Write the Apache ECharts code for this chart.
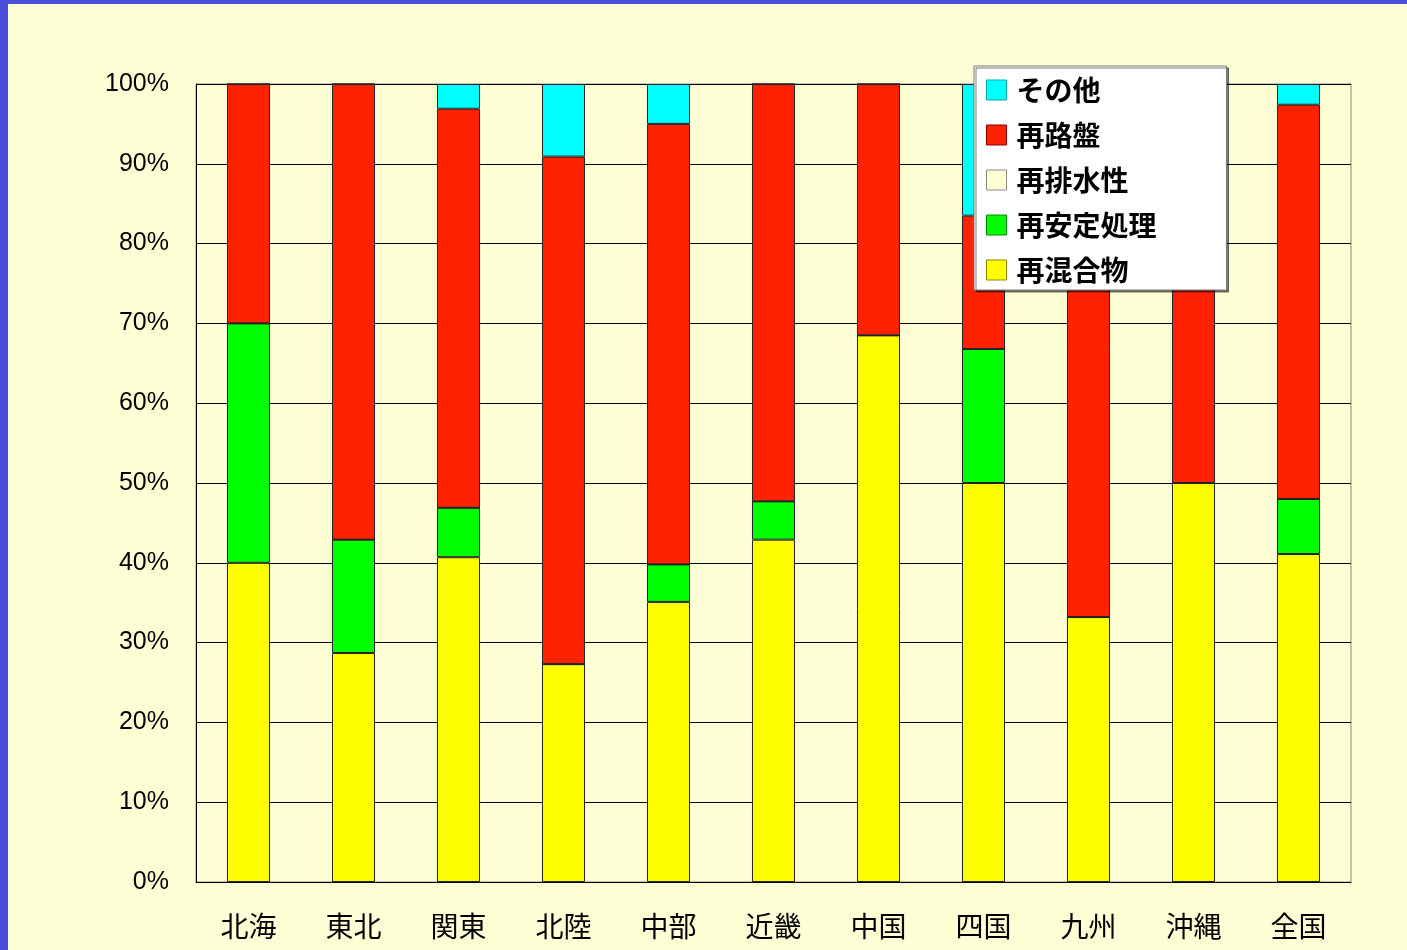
<!DOCTYPE html>
<html>
<head>
<meta charset="utf-8">
<script src="https://cdn.jsdelivr.net/npm/echarts@6/dist/echarts.min.js"></script>
<style>
* { margin: 0; padding: 0; }
body { background: #4a4fd8; }
#main { position: absolute; left: 8px; top: 4px; width: 1399px; height: 946px; background: #ffffd5; }
</style>
</head>
<body>
<div id="main"></div>
<script>
// 地域
var regions = ["北海", "東北", "関東", "北陸", "中部", "近畿", "中国", "四国", "九州", "沖縄", "全国"];
// 各項目の割合(%)
var konGo = [40, 28.7, 40.7, 27.3, 35.1, 42.9, 68.5, 50, 33.2, 50, 41.1];
var anteiShori = [30, 14.2, 6.2, 0, 4.7, 4.8, 0, 16.8, 0, 0, 6.9];
var haisuisei = [0, 0, 0, 0, 0, 0, 0, 0, 0, 0, 0];
var roban = [30, 57.1, 50.0, 63.6, 55.2, 52.3, 31.5, 16.7, 66.8, 50, 49.4];
var sonota = [0, 0, 3.1, 9.1, 5.0, 0, 0, 16.5, 0, 0, 2.6];
var yTicks = [0, 10, 20, 30, 40, 50, 60, 70, 80, 90, 100];

var chart = echarts.init(document.getElementById("main"));

function mk(name, data, color) {
  return {
    name: name,
    type: "bar",
    stack: "all",
    data: data,
    barWidth: "41%",
    itemStyle: { color: color, borderColor: "#222", borderWidth: 1 }
  };
}

chart.setOption({
  animation: false,
  backgroundColor: "#ffffd5",
  grid: { left: 188, right: 56, top: 80, bottom: 68, show: true, borderColor: "#888", borderWidth: 1 },
  legend: {
    orient: "vertical",
    left: 966,
    top: 62,
    padding: [10, 70, 6, 12],
    itemGap: 17,
    itemWidth: 20,
    itemHeight: 20,
    backgroundColor: "#ffffff",
    borderColor: "#777",
    borderWidth: 1,
    shadowColor: "rgba(0,0,0,0.5)",
    shadowOffsetX: 2,
    shadowOffsetY: 2,
    shadowBlur: 0,
    icon: "rect",
    textStyle: { fontSize: 28, fontWeight: "bold", color: "#000", padding: [0, 0, 0, 5], fontFamily: "Noto Sans CJK JP" },
    data: [
      { name: "その他", itemStyle: { borderColor: "#0aa", borderWidth: 1 } },
      { name: "再路盤", itemStyle: { borderColor: "#800", borderWidth: 1 } },
      { name: "再排水性", itemStyle: { borderColor: "#888", borderWidth: 1 } },
      { name: "再安定処理", itemStyle: { borderColor: "#080", borderWidth: 1 } },
      { name: "再混合物", itemStyle: { borderColor: "#880", borderWidth: 1 } }
    ]
  },
  xAxis: {
    type: "category",
    data: regions,
    axisLine: { lineStyle: { color: "#000", width: 1 } },
    axisTick: { inside: true, length: 10, lineStyle: { color: "#333" } },
    axisLabel: { fontSize: 28, color: "#000", margin: 30, fontFamily: "Noto Sans CJK JP" }
  },
  yAxis: {
    type: "value",
    min: 0,
    max: 100,
    interval: 10,
    axisLine: { show: true, lineStyle: { color: "#000" } },
    axisTick: { show: false },
    splitLine: { lineStyle: { color: "#000", width: 1 } },
    axisLabel: {
      fontSize: 25,
      color: "#000",
      margin: 27,
      fontFamily: "Liberation Sans",
      formatter: function (v) { return yTicks.indexOf(v) >= 0 ? v + "%" : ""; }
    }
  },
  series: [
    mk("再混合物", konGo, "#ffff00"),
    mk("再安定処理", anteiShori, "#00ff00"),
    mk("再排水性", haisuisei, "#ffffd5"),
    mk("再路盤", roban, "#ff2200"),
    mk("その他", sonota, "#00ffff")
  ]
});
</script>
</body>
</html>
